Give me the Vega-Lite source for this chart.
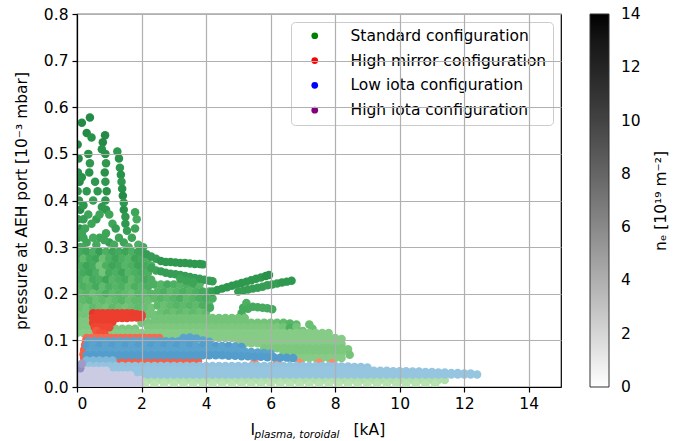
{
  "$schema": "https://vega.github.io/schema/vega-lite/v6.json",
  "width": 484,
  "height": 373,
  "autosize": {"type": "none"},
  "padding": {"left": 77, "top": 14, "right": 117, "bottom": 54},
  "background": "white",
  "datasets": {
    "standard": [
      {"I":0.15,"p":0.567,"n":11},{"I":0.4,"p":0.578,"n":11},{"I":0.3,"p":0.545,"n":11},{"I":0.45,"p":0.535,"n":10.5},{"I":0.35,"p":0.5,"n":10.5},{"I":0.4,"p":0.48,"n":10},{"I":0.38,"p":0.46,"n":10.5},
      {"I":0.87,"p":0.54,"n":11},{"I":0.8,"p":0.525,"n":11},{"I":0.77,"p":0.51,"n":10.5},{"I":0.88,"p":0.5,"n":10.5},{"I":0.9,"p":0.48,"n":10},{"I":0.86,"p":0.46,"n":10.5},{"I":0.88,"p":0.44,"n":10},{"I":0.92,"p":0.42,"n":10.5},{"I":0.88,"p":0.4,"n":10},{"I":0.9,"p":0.38,"n":10},
      {"I":1.25,"p":0.505,"n":10},{"I":1.3,"p":0.49,"n":10.5},{"I":1.33,"p":0.47,"n":10},{"I":1.36,"p":0.455,"n":10.5},{"I":1.38,"p":0.44,"n":10},{"I":1.4,"p":0.425,"n":10.5},{"I":1.42,"p":0.41,"n":11},{"I":1.45,"p":0.395,"n":10},{"I":1.45,"p":0.38,"n":10.5},{"I":1.5,"p":0.365,"n":10},{"I":1.5,"p":0.35,"n":10},{"I":1.55,"p":0.335,"n":9.5},
      {"I":1.8,"p":0.375,"n":9},{"I":1.85,"p":0.36,"n":8.5},{"I":1.8,"p":0.34,"n":9},{"I":1.7,"p":0.32,"n":9},
      {"I":0.02,"p":0.52,"n":11},{"I":0.05,"p":0.49,"n":11},{"I":0.03,"p":0.46,"n":10.5},{"I":0.08,"p":0.44,"n":11},{"I":0.02,"p":0.42,"n":10},{"I":0.06,"p":0.4,"n":10},{"I":0.1,"p":0.38,"n":11},{"I":0.03,"p":0.36,"n":10},{"I":0.08,"p":0.34,"n":10.5},{"I":0.04,"p":0.32,"n":10},{"I":0.1,"p":0.3,"n":10},{"I":0.05,"p":0.28,"n":9},{"I":0.02,"p":0.26,"n":9},{"I":0.08,"p":0.24,"n":9},{"I":0.03,"p":0.22,"n":8},{"I":0.06,"p":0.2,"n":8},
      {"I":0.15,"p":0.45,"n":10.5},{"I":0.56,"p":0.44,"n":10},{"I":0.64,"p":0.42,"n":10},{"I":0.5,"p":0.4,"n":9.5},{"I":0.3,"p":0.42,"n":10},{"I":0.2,"p":0.39,"n":10},{"I":0.35,"p":0.37,"n":9},{"I":0.6,"p":0.36,"n":9.5},{"I":0.77,"p":0.386,"n":10},{"I":0.7,"p":0.37,"n":9},{"I":0.45,"p":0.35,"n":9},{"I":0.25,"p":0.34,"n":9},{"I":1.0,"p":0.37,"n":9},{"I":1.1,"p":0.35,"n":9},{"I":1.2,"p":0.34,"n":9.5},{"I":0.9,"p":0.33,"n":9},{"I":1.0,"p":0.31,"n":9.5},{"I":1.3,"p":0.32,"n":9},{"I":0.7,"p":0.32,"n":9},{"I":0.5,"p":0.32,"n":8.5},{"I":0.3,"p":0.31,"n":9},{"I":0.15,"p":0.3,"n":8.5},
      {"I":0.2,"p":0.32,"n":9},{"I":0.6,"p":0.305,"n":8.5},{"I":0.85,"p":0.315,"n":9},{"I":1.15,"p":0.305,"n":8.5},{"I":1.45,"p":0.31,"n":9},{"I":1.9,"p":0.305,"n":8},{"I":2.05,"p":0.3,"n":8.5},{"I":1.6,"p":0.3,"n":8},{"I":0.2,"p":0.36,"n":9.5},{"I":0.15,"p":0.33,"n":9},
      {"I":0.1,"p":0.29,"n":8.5},{"I":0.3,"p":0.29,"n":9},{"I":0.5,"p":0.29,"n":8},{"I":0.7,"p":0.29,"n":9.5},{"I":0.9,"p":0.29,"n":8},{"I":1.1,"p":0.29,"n":9},{"I":1.3,"p":0.29,"n":8.5},{"I":1.5,"p":0.29,"n":9},{"I":1.7,"p":0.29,"n":8},{"I":1.9,"p":0.29,"n":9},
      {"I":0,"p":0.275,"n":9},{"I":0.2,"p":0.275,"n":7},{"I":0.4,"p":0.275,"n":8.5},{"I":0.6,"p":0.275,"n":9},{"I":0.8,"p":0.275,"n":6.5},{"I":1.0,"p":0.275,"n":8},{"I":1.2,"p":0.275,"n":9},{"I":1.4,"p":0.275,"n":8},{"I":1.6,"p":0.275,"n":7.5},{"I":1.8,"p":0.275,"n":9},{"I":2.0,"p":0.275,"n":8.5},{"I":2.2,"p":0.275,"n":8},
      {"I":0.1,"p":0.26,"n":8},{"I":0.3,"p":0.26,"n":9},{"I":0.5,"p":0.26,"n":8.5},{"I":0.7,"p":0.26,"n":6},{"I":0.9,"p":0.26,"n":8},{"I":1.1,"p":0.26,"n":9},{"I":1.3,"p":0.26,"n":8.5},{"I":1.5,"p":0.26,"n":7.5},{"I":1.7,"p":0.26,"n":8},{"I":1.9,"p":0.26,"n":9},{"I":2.1,"p":0.26,"n":8.5},{"I":2.3,"p":0.26,"n":8},
      {"I":0,"p":0.245,"n":7.5},{"I":0.2,"p":0.245,"n":8.5},{"I":0.4,"p":0.245,"n":9},{"I":0.6,"p":0.245,"n":8},{"I":0.8,"p":0.245,"n":6},{"I":1.0,"p":0.245,"n":8.5},{"I":1.2,"p":0.245,"n":8},{"I":1.4,"p":0.245,"n":9},{"I":1.6,"p":0.245,"n":7.5},{"I":1.8,"p":0.245,"n":8},{"I":2.0,"p":0.245,"n":8.5},{"I":2.2,"p":0.245,"n":8},
      {"I":0.1,"p":0.23,"n":8},{"I":0.3,"p":0.23,"n":7},{"I":0.5,"p":0.23,"n":8.5},{"I":0.7,"p":0.23,"n":8},{"I":0.9,"p":0.23,"n":9},{"I":1.1,"p":0.23,"n":7.5},{"I":1.3,"p":0.23,"n":8},{"I":1.5,"p":0.23,"n":8.5},{"I":1.7,"p":0.23,"n":7},{"I":1.9,"p":0.23,"n":8},{"I":2.1,"p":0.23,"n":8.5},{"I":2.3,"p":0.23,"n":8},
      {"I":0,"p":0.215,"n":7},{"I":0.2,"p":0.215,"n":8},{"I":0.4,"p":0.215,"n":7.5},{"I":0.6,"p":0.215,"n":8.5},{"I":0.8,"p":0.215,"n":7},{"I":1.0,"p":0.215,"n":8},{"I":1.2,"p":0.215,"n":7.5},{"I":1.4,"p":0.215,"n":8},{"I":1.6,"p":0.215,"n":7},{"I":1.8,"p":0.215,"n":8},{"I":2.0,"p":0.215,"n":7.5},{"I":2.2,"p":0.215,"n":8},
      {"I":0.1,"p":0.2,"n":7},{"I":0.3,"p":0.2,"n":7.5},{"I":0.5,"p":0.2,"n":6.5},{"I":0.7,"p":0.2,"n":7},{"I":0.9,"p":0.2,"n":8},{"I":1.1,"p":0.2,"n":7},{"I":1.3,"p":0.2,"n":7.5},{"I":1.5,"p":0.2,"n":7},{"I":1.7,"p":0.2,"n":6.5},{"I":1.9,"p":0.2,"n":7.5},{"I":2.1,"p":0.2,"n":7},{"I":2.3,"p":0.2,"n":7.5},
      {"I":0,"p":0.185,"n":6.5},{"I":0.2,"p":0.185,"n":7},{"I":0.4,"p":0.185,"n":7.5},{"I":0.6,"p":0.185,"n":6.5},{"I":0.8,"p":0.185,"n":7},{"I":1.0,"p":0.185,"n":6.5},{"I":1.2,"p":0.185,"n":7},{"I":1.4,"p":0.185,"n":7.5},{"I":1.6,"p":0.185,"n":6.5},{"I":1.8,"p":0.185,"n":7},{"I":2.0,"p":0.185,"n":7},{"I":2.2,"p":0.185,"n":6.5},
      {"I":0.1,"p":0.17,"n":6.5},{"I":0.3,"p":0.17,"n":6},{"I":0.5,"p":0.17,"n":7},{"I":0.7,"p":0.17,"n":6.5},{"I":0.9,"p":0.17,"n":6},{"I":1.1,"p":0.17,"n":7},{"I":1.3,"p":0.17,"n":6.5},{"I":1.5,"p":0.17,"n":6},{"I":1.7,"p":0.17,"n":6.5},{"I":1.9,"p":0.17,"n":7},{"I":2.1,"p":0.17,"n":6.5},{"I":2.3,"p":0.17,"n":6},
      {"I":0,"p":0.155,"n":6},{"I":0.2,"p":0.155,"n":6},{"I":0.4,"p":0.155,"n":6},{"I":2.2,"p":0.155,"n":6},{"I":2.4,"p":0.155,"n":6},
      {"I":0.1,"p":0.14,"n":5.5},{"I":0.3,"p":0.14,"n":5.5},
      {"I":0,"p":0.125,"n":5.5},{"I":0.2,"p":0.125,"n":5.5},{"I":0.4,"p":0.125,"n":5.5},{"I":1.2,"p":0.125,"n":5.5},{"I":1.4,"p":0.125,"n":5.5},{"I":1.6,"p":0.125,"n":5.5},{"I":1.8,"p":0.125,"n":5.5},
      {"I":2.4,"p":0.22,"n":8},{"I":2.6,"p":0.22,"n":7.5},{"I":2.8,"p":0.22,"n":8.5},{"I":3.0,"p":0.22,"n":8},{"I":3.2,"p":0.22,"n":7.5},{"I":3.4,"p":0.22,"n":8},{"I":3.6,"p":0.22,"n":8.5},{"I":3.8,"p":0.22,"n":7.5},
      {"I":2.5,"p":0.205,"n":7.5},{"I":2.7,"p":0.205,"n":8},{"I":2.9,"p":0.205,"n":7},{"I":3.1,"p":0.205,"n":7.5},{"I":3.3,"p":0.205,"n":8},{"I":3.5,"p":0.205,"n":7.5},{"I":3.7,"p":0.205,"n":8},{"I":3.9,"p":0.205,"n":8.5},{"I":4.1,"p":0.205,"n":8},
      {"I":2.4,"p":0.19,"n":7},{"I":2.6,"p":0.19,"n":7.5},{"I":2.8,"p":0.19,"n":7},{"I":3.0,"p":0.19,"n":7.5},{"I":3.2,"p":0.19,"n":8},{"I":3.4,"p":0.19,"n":7},{"I":3.6,"p":0.19,"n":7.5},{"I":3.8,"p":0.19,"n":8},{"I":4.0,"p":0.19,"n":8.5},{"I":4.2,"p":0.19,"n":8},
      {"I":2.5,"p":0.175,"n":7},{"I":2.7,"p":0.175,"n":6.5},{"I":2.9,"p":0.175,"n":7},{"I":3.1,"p":0.175,"n":7.5},{"I":3.3,"p":0.175,"n":7},{"I":3.5,"p":0.175,"n":7.5},{"I":3.7,"p":0.175,"n":7},{"I":3.9,"p":0.175,"n":8},{"I":4.1,"p":0.175,"n":7.5},
      {"I":2.6,"p":0.16,"n":6.5},{"I":2.8,"p":0.16,"n":7},{"I":3.0,"p":0.16,"n":6.5},{"I":3.2,"p":0.16,"n":7},{"I":3.4,"p":0.16,"n":6.5},{"I":3.6,"p":0.16,"n":7},{"I":3.8,"p":0.16,"n":6.5},{"I":4.0,"p":0.16,"n":7},
      {"I":2.0,"p":0.29,"n":9},{"I":2.15,"p":0.285,"n":9.5},{"I":2.3,"p":0.28,"n":9.5},{"I":2.45,"p":0.275,"n":9.5},{"I":2.6,"p":0.27,"n":10},{"I":2.75,"p":0.268,"n":10},{"I":2.9,"p":0.268,"n":10},{"I":3.05,"p":0.267,"n":10},{"I":3.2,"p":0.266,"n":10},{"I":3.35,"p":0.266,"n":10},{"I":3.5,"p":0.265,"n":10},{"I":3.65,"p":0.264,"n":10},{"I":3.8,"p":0.264,"n":10},{"I":3.9,"p":0.263,"n":10},
      {"I":2.3,"p":0.255,"n":9},{"I":2.45,"p":0.25,"n":9},{"I":2.6,"p":0.248,"n":9.5},{"I":2.75,"p":0.245,"n":9.5},{"I":2.9,"p":0.243,"n":9.5},{"I":3.05,"p":0.242,"n":9.5},{"I":3.2,"p":0.24,"n":9.5},{"I":3.35,"p":0.238,"n":9.5},{"I":3.5,"p":0.236,"n":9.5},{"I":3.65,"p":0.234,"n":9.5},{"I":3.8,"p":0.232,"n":9.5},{"I":3.95,"p":0.23,"n":9.5},{"I":4.1,"p":0.228,"n":9.5},{"I":4.2,"p":0.227,"n":9.5},
      {"I":3.2,"p":0.232,"n":9},{"I":3.4,"p":0.228,"n":9},{"I":3.6,"p":0.225,"n":9},{"I":4.12,"p":0.17,"n":8.5},
      {"I":4.2,"p":0.205,"n":9.5},{"I":4.35,"p":0.208,"n":10},{"I":4.5,"p":0.211,"n":10},{"I":4.65,"p":0.214,"n":10},{"I":4.8,"p":0.217,"n":10},{"I":4.95,"p":0.22,"n":10},{"I":5.1,"p":0.223,"n":10},{"I":5.25,"p":0.226,"n":10},{"I":5.4,"p":0.229,"n":10},{"I":5.55,"p":0.232,"n":10},{"I":5.7,"p":0.235,"n":10},{"I":5.85,"p":0.238,"n":10.5},{"I":5.95,"p":0.24,"n":10.5},
      {"I":5.0,"p":0.205,"n":9.5},{"I":5.15,"p":0.207,"n":9.5},{"I":5.3,"p":0.209,"n":9.5},{"I":5.45,"p":0.211,"n":9.5},{"I":5.6,"p":0.213,"n":9.5},{"I":5.75,"p":0.215,"n":9.5},{"I":5.9,"p":0.218,"n":9.5},{"I":6.05,"p":0.22,"n":9.5},{"I":6.2,"p":0.222,"n":9.5},{"I":6.35,"p":0.224,"n":10},{"I":6.5,"p":0.226,"n":10},{"I":6.65,"p":0.228,"n":10},
      {"I":5.1,"p":0.158,"n":8.5},{"I":5.15,"p":0.17,"n":8.5},{"I":5.25,"p":0.18,"n":8},{"I":5.3,"p":0.168,"n":8.5},{"I":5.45,"p":0.172,"n":8.5},{"I":5.6,"p":0.171,"n":8.5},{"I":5.75,"p":0.17,"n":8.5},{"I":5.9,"p":0.169,"n":8.5},{"I":6.05,"p":0.167,"n":8.5},
      {"I":2.4,"p":0.148,"n":6},{"I":2.6,"p":0.148,"n":6},{"I":2.8,"p":0.148,"n":6},{"I":3.0,"p":0.148,"n":6},{"I":3.2,"p":0.148,"n":6},{"I":3.4,"p":0.148,"n":6},{"I":3.6,"p":0.148,"n":6},{"I":3.8,"p":0.148,"n":6},{"I":4.0,"p":0.148,"n":6},{"I":4.2,"p":0.148,"n":6},{"I":4.4,"p":0.148,"n":6},{"I":4.6,"p":0.148,"n":6},{"I":4.8,"p":0.148,"n":6},{"I":5.0,"p":0.148,"n":6},{"I":5.2,"p":0.148,"n":6},
      {"I":2.0,"p":0.138,"n":6},{"I":2.2,"p":0.138,"n":6},{"I":2.4,"p":0.138,"n":6},{"I":2.6,"p":0.138,"n":6},{"I":2.8,"p":0.138,"n":6},{"I":3.0,"p":0.138,"n":6},{"I":3.2,"p":0.138,"n":6},{"I":3.4,"p":0.138,"n":6},{"I":3.6,"p":0.138,"n":6},{"I":3.8,"p":0.138,"n":6},{"I":4.0,"p":0.138,"n":6},{"I":4.2,"p":0.138,"n":6},{"I":4.4,"p":0.138,"n":6},{"I":4.6,"p":0.138,"n":6},{"I":4.8,"p":0.138,"n":6},{"I":5.0,"p":0.138,"n":6},{"I":5.2,"p":0.138,"n":6},{"I":5.4,"p":0.138,"n":6},{"I":5.6,"p":0.138,"n":6},{"I":5.8,"p":0.138,"n":6},{"I":6.0,"p":0.138,"n":6},{"I":6.2,"p":0.138,"n":6.5},{"I":6.4,"p":0.138,"n":7},{"I":6.6,"p":0.136,"n":7.5},{"I":6.8,"p":0.134,"n":7},
      {"I":2.2,"p":0.128,"n":5.5},{"I":2.4,"p":0.128,"n":5.5},{"I":2.6,"p":0.128,"n":5.5},{"I":2.8,"p":0.128,"n":5.5},{"I":3.0,"p":0.128,"n":5.5},{"I":3.2,"p":0.128,"n":5.5},{"I":3.4,"p":0.128,"n":5.5},{"I":3.6,"p":0.128,"n":5.5},{"I":3.8,"p":0.128,"n":5.5},{"I":4.0,"p":0.128,"n":5.5},{"I":4.2,"p":0.128,"n":5.5},{"I":4.4,"p":0.128,"n":5.5},{"I":4.6,"p":0.128,"n":5.5},{"I":4.8,"p":0.128,"n":5.5},{"I":5.0,"p":0.128,"n":5.5},{"I":5.2,"p":0.128,"n":5.5},{"I":5.4,"p":0.128,"n":5.5},{"I":5.6,"p":0.128,"n":5.5},{"I":5.8,"p":0.128,"n":5.5},{"I":6.0,"p":0.128,"n":5.5},{"I":6.2,"p":0.128,"n":5.5},{"I":6.4,"p":0.128,"n":6},{"I":6.6,"p":0.127,"n":8},{"I":6.8,"p":0.128,"n":6},{"I":7.0,"p":0.12,"n":6},{"I":7.2,"p":0.134,"n":6.5},{"I":7.3,"p":0.125,"n":6.5},
      {"I":0,"p":0.116,"n":5},{"I":0.2,"p":0.116,"n":5},{"I":0.4,"p":0.116,"n":5},{"I":0.6,"p":0.116,"n":5},{"I":0.8,"p":0.116,"n":5},{"I":1.0,"p":0.116,"n":5},{"I":1.2,"p":0.116,"n":5},{"I":1.4,"p":0.116,"n":5},{"I":1.6,"p":0.116,"n":5},{"I":1.8,"p":0.116,"n":5},{"I":2.0,"p":0.116,"n":5},{"I":2.2,"p":0.116,"n":5},{"I":2.4,"p":0.116,"n":5},{"I":2.6,"p":0.116,"n":5},{"I":2.8,"p":0.116,"n":5},{"I":3.0,"p":0.116,"n":5},{"I":3.2,"p":0.116,"n":5},{"I":3.4,"p":0.116,"n":5},{"I":3.6,"p":0.116,"n":5},{"I":3.8,"p":0.116,"n":5},{"I":4.0,"p":0.116,"n":5},{"I":4.2,"p":0.116,"n":5},{"I":4.4,"p":0.116,"n":5},{"I":4.6,"p":0.116,"n":5},{"I":4.8,"p":0.116,"n":5},{"I":5.0,"p":0.116,"n":5},{"I":5.2,"p":0.116,"n":5},{"I":5.4,"p":0.116,"n":5},{"I":5.6,"p":0.116,"n":5},{"I":5.8,"p":0.116,"n":5},{"I":6.0,"p":0.116,"n":5},{"I":6.2,"p":0.116,"n":5},{"I":6.4,"p":0.116,"n":5},{"I":6.6,"p":0.116,"n":5},{"I":6.8,"p":0.116,"n":5},{"I":7.0,"p":0.116,"n":5},{"I":7.2,"p":0.116,"n":5},{"I":7.4,"p":0.116,"n":5},{"I":7.6,"p":0.116,"n":5},{"I":7.8,"p":0.116,"n":5},
      {"I":2.6,"p":0.105,"n":5},{"I":2.8,"p":0.105,"n":5},{"I":3.0,"p":0.105,"n":5},{"I":3.2,"p":0.105,"n":5},{"I":3.4,"p":0.105,"n":5},{"I":3.6,"p":0.105,"n":5},{"I":3.8,"p":0.105,"n":5},{"I":4.0,"p":0.105,"n":5},{"I":4.2,"p":0.105,"n":5},{"I":4.4,"p":0.105,"n":5},{"I":4.6,"p":0.105,"n":5},{"I":4.8,"p":0.105,"n":5},{"I":5.0,"p":0.105,"n":5},{"I":5.2,"p":0.105,"n":5},{"I":5.4,"p":0.105,"n":5},{"I":5.6,"p":0.105,"n":5},{"I":5.8,"p":0.105,"n":5},{"I":6.0,"p":0.105,"n":5},{"I":6.2,"p":0.105,"n":5},{"I":6.4,"p":0.105,"n":5},{"I":6.6,"p":0.105,"n":5},{"I":6.8,"p":0.105,"n":5},{"I":7.0,"p":0.105,"n":5},{"I":7.2,"p":0.105,"n":5},{"I":7.4,"p":0.105,"n":5},{"I":7.6,"p":0.105,"n":5},{"I":7.8,"p":0.105,"n":5},{"I":8.0,"p":0.105,"n":5},{"I":8.2,"p":0.103,"n":5},
      {"I":5.0,"p":0.094,"n":5},{"I":5.2,"p":0.094,"n":5},{"I":5.4,"p":0.094,"n":5},{"I":5.6,"p":0.094,"n":5},{"I":5.8,"p":0.094,"n":5},{"I":6.0,"p":0.094,"n":5},{"I":6.2,"p":0.094,"n":5},{"I":6.4,"p":0.094,"n":5},{"I":6.6,"p":0.094,"n":5},{"I":6.8,"p":0.094,"n":5},{"I":7.0,"p":0.094,"n":5},{"I":7.2,"p":0.094,"n":5},{"I":7.4,"p":0.094,"n":5},{"I":7.6,"p":0.094,"n":5},{"I":7.8,"p":0.094,"n":5},{"I":8.0,"p":0.094,"n":5},{"I":8.2,"p":0.092,"n":5},
      {"I":5.8,"p":0.083,"n":5.5},{"I":6.0,"p":0.083,"n":5.5},{"I":6.2,"p":0.083,"n":5.5},{"I":6.4,"p":0.083,"n":5.5},{"I":6.6,"p":0.083,"n":5.5},{"I":6.8,"p":0.083,"n":5.5},{"I":7.0,"p":0.083,"n":5.5},{"I":7.2,"p":0.083,"n":5.5},{"I":7.4,"p":0.083,"n":5.5},{"I":7.6,"p":0.083,"n":5.5},{"I":7.8,"p":0.083,"n":5.5},{"I":8.0,"p":0.083,"n":5.5},{"I":8.2,"p":0.083,"n":5.5},{"I":8.4,"p":0.081,"n":5.5},
      {"I":6.4,"p":0.073,"n":5.5},{"I":6.6,"p":0.073,"n":5.5},{"I":6.8,"p":0.073,"n":5.5},{"I":7.0,"p":0.073,"n":5.5},{"I":7.2,"p":0.073,"n":5.5},{"I":7.4,"p":0.073,"n":5.5},{"I":7.6,"p":0.073,"n":5.5},{"I":7.8,"p":0.073,"n":5.5},{"I":8.0,"p":0.073,"n":5.5},{"I":8.2,"p":0.073,"n":5.5},{"I":8.45,"p":0.069,"n":6},
      {"I":6.6,"p":0.062,"n":5},{"I":6.8,"p":0.062,"n":5},{"I":7.0,"p":0.062,"n":5},{"I":7.2,"p":0.062,"n":5},{"I":7.4,"p":0.062,"n":5},{"I":7.6,"p":0.062,"n":5},{"I":7.8,"p":0.062,"n":5},{"I":8.0,"p":0.062,"n":5},{"I":8.2,"p":0.062,"n":5},
      {"I":0,"p":0.015,"n":2.5},{"I":0.2,"p":0.015,"n":2.5},{"I":0.4,"p":0.015,"n":2.5},{"I":0.6,"p":0.015,"n":2.5},{"I":0.8,"p":0.015,"n":2.5},{"I":1.0,"p":0.015,"n":2.5},{"I":1.2,"p":0.015,"n":2.5},{"I":1.4,"p":0.015,"n":2.5},{"I":1.6,"p":0.015,"n":2.5},{"I":1.8,"p":0.015,"n":2.5},{"I":2.0,"p":0.015,"n":2.5},{"I":2.2,"p":0.015,"n":2.5},{"I":2.4,"p":0.015,"n":2.5},{"I":2.6,"p":0.015,"n":2.5},{"I":2.8,"p":0.015,"n":2.5},{"I":3.0,"p":0.015,"n":2.5},{"I":3.2,"p":0.015,"n":2.5},{"I":3.4,"p":0.015,"n":2.5},{"I":3.6,"p":0.015,"n":2.5},{"I":3.8,"p":0.015,"n":2.5},{"I":4.0,"p":0.015,"n":2.5},{"I":4.2,"p":0.015,"n":2.5},{"I":4.4,"p":0.015,"n":2.5},{"I":4.6,"p":0.015,"n":2.5},{"I":4.8,"p":0.015,"n":2.5},{"I":5.0,"p":0.015,"n":2.5},{"I":5.2,"p":0.015,"n":2.5},{"I":5.4,"p":0.015,"n":2.5},{"I":5.6,"p":0.015,"n":2.5},{"I":5.8,"p":0.015,"n":2.5},{"I":6.0,"p":0.015,"n":2.5},{"I":6.2,"p":0.015,"n":2.5},{"I":6.4,"p":0.015,"n":2.5},{"I":6.6,"p":0.015,"n":2.5},{"I":6.8,"p":0.015,"n":2.5},{"I":7.0,"p":0.015,"n":2.5},{"I":7.2,"p":0.015,"n":2.5},{"I":7.4,"p":0.015,"n":2.5},{"I":7.6,"p":0.015,"n":2.5},{"I":7.8,"p":0.015,"n":2.5},{"I":8.0,"p":0.015,"n":2.5},{"I":8.2,"p":0.015,"n":2.5},{"I":8.4,"p":0.015,"n":2.5},{"I":8.6,"p":0.015,"n":2.5},{"I":8.8,"p":0.015,"n":2.5},{"I":9.0,"p":0.015,"n":2.5},{"I":9.2,"p":0.015,"n":2.5},{"I":9.4,"p":0.015,"n":2.5},{"I":9.6,"p":0.015,"n":2.5},{"I":9.8,"p":0.015,"n":2.5},{"I":10.0,"p":0.015,"n":2.5},{"I":10.2,"p":0.015,"n":2.5},{"I":10.4,"p":0.015,"n":2.5},{"I":10.6,"p":0.015,"n":2.5},{"I":10.8,"p":0.015,"n":2.5},{"I":11.0,"p":0.015,"n":2.5},{"I":11.2,"p":0.015,"n":2.5},{"I":11.4,"p":0.015,"n":2.5},
      {"I":0,"p":0.006,"n":2},{"I":0.3,"p":0.006,"n":2},{"I":0.6,"p":0.006,"n":2},{"I":0.9,"p":0.006,"n":2},{"I":1.2,"p":0.006,"n":2},{"I":1.5,"p":0.006,"n":2},{"I":1.8,"p":0.006,"n":2},{"I":2.1,"p":0.006,"n":2},{"I":2.4,"p":0.006,"n":2},{"I":2.7,"p":0.006,"n":2},{"I":3.0,"p":0.006,"n":2},{"I":3.3,"p":0.006,"n":2},{"I":3.6,"p":0.006,"n":2},{"I":3.9,"p":0.006,"n":2},{"I":4.2,"p":0.006,"n":2},{"I":4.5,"p":0.006,"n":2},{"I":4.8,"p":0.006,"n":2},{"I":5.1,"p":0.006,"n":2},{"I":5.4,"p":0.006,"n":2},{"I":5.7,"p":0.006,"n":2},{"I":6.0,"p":0.006,"n":2},{"I":6.3,"p":0.006,"n":2},{"I":6.6,"p":0.006,"n":2},{"I":6.9,"p":0.006,"n":2},{"I":7.2,"p":0.006,"n":2},{"I":7.5,"p":0.006,"n":2},{"I":7.8,"p":0.006,"n":2},{"I":8.1,"p":0.006,"n":2},{"I":8.4,"p":0.006,"n":2},{"I":8.7,"p":0.006,"n":2},{"I":9.0,"p":0.006,"n":2},{"I":9.3,"p":0.006,"n":2},{"I":9.6,"p":0.006,"n":2},{"I":9.9,"p":0.006,"n":2},{"I":10.2,"p":0.006,"n":2},{"I":10.5,"p":0.006,"n":2},{"I":10.8,"p":0.006,"n":2},{"I":11.1,"p":0.006,"n":2}
    ],
    "mirror": [
      {"I":0.5,"p":0.158,"n":9},{"I":0.65,"p":0.158,"n":8.5},{"I":0.8,"p":0.158,"n":8.5},{"I":0.95,"p":0.158,"n":8.5},{"I":1.1,"p":0.158,"n":8.5},{"I":1.25,"p":0.158,"n":8.5},{"I":1.4,"p":0.158,"n":8.5},{"I":1.55,"p":0.158,"n":8.5},{"I":1.7,"p":0.158,"n":8.5},{"I":1.85,"p":0.156,"n":8.5},{"I":2.0,"p":0.155,"n":8.5},
      {"I":0.5,"p":0.148,"n":8.5},{"I":0.65,"p":0.148,"n":8.5},{"I":0.8,"p":0.148,"n":8.5},{"I":0.95,"p":0.148,"n":8.5},{"I":1.1,"p":0.148,"n":8.5},{"I":1.25,"p":0.148,"n":8.5},{"I":1.4,"p":0.148,"n":8.5},{"I":1.55,"p":0.148,"n":8.5},{"I":1.7,"p":0.149,"n":8.5},{"I":1.85,"p":0.149,"n":8.5},{"I":2.0,"p":0.15,"n":8.5},
      {"I":0.5,"p":0.138,"n":8.5},{"I":0.65,"p":0.138,"n":8.5},{"I":0.8,"p":0.138,"n":8.5},{"I":0.95,"p":0.138,"n":8.5},{"I":1.1,"p":0.14,"n":8.5},
      {"I":0.55,"p":0.128,"n":8},{"I":0.7,"p":0.128,"n":8},{"I":0.85,"p":0.128,"n":8},{"I":1.0,"p":0.128,"n":8},
      {"I":0.6,"p":0.12,"n":7},{"I":0.7,"p":0.116,"n":7.5},{"I":0.85,"p":0.114,"n":7.5},
      {"I":0.3,"p":0.105,"n":6},{"I":0.45,"p":0.105,"n":6},{"I":0.6,"p":0.105,"n":6},{"I":0.75,"p":0.105,"n":6},{"I":0.9,"p":0.105,"n":6},{"I":1.05,"p":0.105,"n":6},{"I":1.2,"p":0.105,"n":6},{"I":1.35,"p":0.105,"n":6},{"I":1.5,"p":0.105,"n":6},{"I":1.65,"p":0.105,"n":6},{"I":1.8,"p":0.105,"n":6},{"I":1.95,"p":0.105,"n":6},{"I":2.1,"p":0.105,"n":6},{"I":2.25,"p":0.105,"n":6},{"I":2.4,"p":0.105,"n":6},{"I":2.55,"p":0.105,"n":6},
      {"I":0.28,"p":0.098,"n":6.5},{"I":0.25,"p":0.09,"n":6.5},{"I":0.22,"p":0.08,"n":6.5},{"I":0.2,"p":0.07,"n":6.5},{"I":0.22,"p":0.062,"n":6.5},{"I":0.28,"p":0.054,"n":6.5},
      {"I":1.2,"p":0.056,"n":6.5},{"I":1.35,"p":0.056,"n":6.5},{"I":1.5,"p":0.056,"n":6.5},{"I":1.65,"p":0.056,"n":6.5},{"I":1.8,"p":0.055,"n":6.5},{"I":1.95,"p":0.055,"n":6.5},{"I":2.1,"p":0.055,"n":6.5},{"I":2.25,"p":0.055,"n":6.5},{"I":2.4,"p":0.055,"n":6.5},{"I":2.55,"p":0.055,"n":6.5},{"I":2.7,"p":0.055,"n":6.5},{"I":2.85,"p":0.055,"n":6.5},{"I":3.0,"p":0.055,"n":6.5},{"I":3.15,"p":0.055,"n":6.5},{"I":3.3,"p":0.055,"n":6.5},{"I":3.45,"p":0.055,"n":6.5},{"I":3.6,"p":0.055,"n":6.5},{"I":3.75,"p":0.055,"n":6.5},
      {"I":5.5,"p":0.053,"n":4},{"I":6.2,"p":0.053,"n":4},{"I":6.9,"p":0.052,"n":4},{"I":7.5,"p":0.052,"n":4},{"I":7.9,"p":0.051,"n":4}
    ],
    "lowiota": [
      {"I":0.35,"p":0.098,"n":7},{"I":0.55,"p":0.098,"n":7},{"I":0.75,"p":0.098,"n":7},{"I":0.95,"p":0.098,"n":7},{"I":1.15,"p":0.098,"n":7},{"I":1.35,"p":0.098,"n":7},{"I":1.55,"p":0.098,"n":7},{"I":1.75,"p":0.098,"n":7},{"I":1.95,"p":0.098,"n":7},{"I":2.15,"p":0.098,"n":7},{"I":2.35,"p":0.098,"n":7},{"I":2.55,"p":0.098,"n":7},{"I":2.75,"p":0.098,"n":7},{"I":2.95,"p":0.098,"n":7},{"I":3.15,"p":0.098,"n":7},{"I":3.35,"p":0.098,"n":7},{"I":3.55,"p":0.098,"n":7},
      {"I":3.3,"p":0.105,"n":7},{"I":3.5,"p":0.106,"n":7},{"I":3.7,"p":0.104,"n":7},{"I":3.9,"p":0.1,"n":7},{"I":4.1,"p":0.097,"n":7},
      {"I":0.3,"p":0.088,"n":7.5},{"I":0.5,"p":0.088,"n":7},{"I":0.7,"p":0.088,"n":7.5},{"I":0.9,"p":0.088,"n":7},{"I":1.1,"p":0.088,"n":7.5},{"I":1.3,"p":0.088,"n":7},{"I":1.5,"p":0.088,"n":7.5},{"I":1.7,"p":0.088,"n":7},{"I":1.9,"p":0.088,"n":7.5},{"I":2.1,"p":0.088,"n":7},{"I":2.3,"p":0.088,"n":7.5},{"I":2.5,"p":0.088,"n":7},{"I":2.7,"p":0.088,"n":7.5},{"I":2.9,"p":0.088,"n":7},{"I":3.1,"p":0.088,"n":7.5},{"I":3.3,"p":0.088,"n":7},{"I":3.5,"p":0.088,"n":7.5},{"I":3.7,"p":0.088,"n":7},{"I":3.9,"p":0.088,"n":7.5},{"I":4.1,"p":0.088,"n":7},{"I":4.3,"p":0.088,"n":7.5},{"I":4.5,"p":0.088,"n":7},{"I":4.7,"p":0.088,"n":7.5},{"I":4.9,"p":0.087,"n":7},{"I":5.1,"p":0.086,"n":7.5},
      {"I":0.4,"p":0.078,"n":7},{"I":0.6,"p":0.078,"n":7},{"I":0.8,"p":0.078,"n":7},{"I":1.0,"p":0.078,"n":7},{"I":1.2,"p":0.078,"n":7},{"I":1.4,"p":0.078,"n":7},{"I":1.6,"p":0.078,"n":7},{"I":1.8,"p":0.078,"n":7},{"I":2.0,"p":0.078,"n":7},{"I":2.2,"p":0.078,"n":7},{"I":2.4,"p":0.078,"n":7},{"I":2.6,"p":0.078,"n":7},{"I":2.8,"p":0.078,"n":7},{"I":3.0,"p":0.078,"n":7},{"I":3.2,"p":0.078,"n":7},{"I":3.4,"p":0.078,"n":7},{"I":3.6,"p":0.078,"n":7},{"I":3.8,"p":0.078,"n":7},{"I":4.0,"p":0.078,"n":7},{"I":4.2,"p":0.078,"n":7},{"I":4.4,"p":0.078,"n":7},{"I":4.6,"p":0.078,"n":7},{"I":4.8,"p":0.078,"n":7},{"I":5.0,"p":0.077,"n":7},{"I":5.2,"p":0.076,"n":7},{"I":5.4,"p":0.075,"n":7},{"I":5.6,"p":0.074,"n":7},{"I":5.8,"p":0.073,"n":7},{"I":6.0,"p":0.072,"n":7},
      {"I":0.3,"p":0.068,"n":7.5},{"I":0.5,"p":0.068,"n":7.5},{"I":0.7,"p":0.068,"n":7.5},{"I":0.9,"p":0.068,"n":7.5},{"I":1.1,"p":0.068,"n":7.5},{"I":1.3,"p":0.068,"n":7.5},{"I":1.5,"p":0.068,"n":7.5},{"I":1.7,"p":0.068,"n":7.5},{"I":1.9,"p":0.068,"n":7.5},{"I":2.1,"p":0.068,"n":7.5},{"I":2.3,"p":0.068,"n":7.5},{"I":2.5,"p":0.068,"n":7.5},{"I":2.7,"p":0.068,"n":7.5},{"I":2.9,"p":0.068,"n":7.5},{"I":3.1,"p":0.068,"n":7.5},{"I":3.3,"p":0.068,"n":7.5},{"I":3.5,"p":0.068,"n":7.5},{"I":3.7,"p":0.068,"n":7.5},{"I":3.9,"p":0.068,"n":7.5},{"I":4.1,"p":0.068,"n":7.5},{"I":4.3,"p":0.068,"n":7.5},{"I":4.5,"p":0.068,"n":7.5},{"I":4.7,"p":0.067,"n":7.5},{"I":4.9,"p":0.067,"n":7.5},{"I":5.1,"p":0.066,"n":7.5},{"I":5.3,"p":0.066,"n":7.5},{"I":5.5,"p":0.065,"n":7.5},{"I":5.7,"p":0.065,"n":7.5},{"I":5.9,"p":0.064,"n":7.5},{"I":6.1,"p":0.064,"n":7.5},{"I":6.3,"p":0.063,"n":7.5},{"I":6.5,"p":0.063,"n":7.5},{"I":6.7,"p":0.062,"n":7.5},
      {"I":0.3,"p":0.057,"n":5},{"I":0.5,"p":0.057,"n":5},{"I":0.7,"p":0.057,"n":5},{"I":0.9,"p":0.057,"n":5},{"I":1.1,"p":0.057,"n":5},
      {"I":0,"p":0.045,"n":4},{"I":0.2,"p":0.045,"n":4},{"I":0.4,"p":0.045,"n":4},{"I":0.6,"p":0.045,"n":4},{"I":0.8,"p":0.045,"n":4},{"I":1.0,"p":0.045,"n":4},{"I":1.2,"p":0.045,"n":4},{"I":1.4,"p":0.045,"n":4},{"I":1.6,"p":0.045,"n":4},{"I":1.8,"p":0.045,"n":4},{"I":2.0,"p":0.045,"n":4},{"I":2.2,"p":0.045,"n":4},{"I":2.4,"p":0.045,"n":4},{"I":2.6,"p":0.045,"n":4},{"I":2.8,"p":0.045,"n":4},{"I":3.0,"p":0.045,"n":4},{"I":3.2,"p":0.045,"n":4},{"I":3.4,"p":0.045,"n":4},{"I":3.6,"p":0.045,"n":4},{"I":3.8,"p":0.045,"n":4},{"I":4.0,"p":0.045,"n":4},{"I":4.2,"p":0.045,"n":4},{"I":4.4,"p":0.045,"n":4},{"I":4.6,"p":0.045,"n":4},{"I":4.8,"p":0.045,"n":4},{"I":5.0,"p":0.045,"n":4},{"I":5.2,"p":0.045,"n":4},{"I":5.4,"p":0.045,"n":4},{"I":5.6,"p":0.045,"n":4},{"I":5.8,"p":0.045,"n":4},{"I":6.0,"p":0.045,"n":4},{"I":6.2,"p":0.045,"n":4},{"I":6.4,"p":0.045,"n":4},{"I":6.6,"p":0.045,"n":4},{"I":6.8,"p":0.045,"n":4},{"I":7.0,"p":0.045,"n":4},{"I":7.2,"p":0.045,"n":4},{"I":7.4,"p":0.045,"n":4},{"I":7.6,"p":0.045,"n":4},{"I":7.8,"p":0.045,"n":4},{"I":8.0,"p":0.045,"n":4},{"I":8.2,"p":0.044,"n":4},{"I":8.4,"p":0.044,"n":4},{"I":8.6,"p":0.043,"n":4},{"I":8.8,"p":0.043,"n":4},{"I":9.0,"p":0.042,"n":4},
      {"I":0,"p":0.036,"n":3.8},{"I":0.2,"p":0.036,"n":3.8},{"I":0.4,"p":0.036,"n":3.8},{"I":0.6,"p":0.036,"n":3.8},{"I":0.8,"p":0.036,"n":3.8},{"I":1.0,"p":0.036,"n":3.8},{"I":1.2,"p":0.036,"n":3.8},{"I":1.4,"p":0.036,"n":3.8},{"I":1.6,"p":0.036,"n":3.8},{"I":1.8,"p":0.036,"n":3.8},{"I":2.0,"p":0.036,"n":3.8},{"I":2.2,"p":0.036,"n":3.8},{"I":2.4,"p":0.036,"n":3.8},{"I":2.6,"p":0.036,"n":3.8},{"I":2.8,"p":0.036,"n":3.8},{"I":3.0,"p":0.036,"n":3.8},{"I":3.2,"p":0.036,"n":3.8},{"I":3.4,"p":0.036,"n":3.8},{"I":3.6,"p":0.036,"n":3.8},{"I":3.8,"p":0.036,"n":3.8},{"I":4.0,"p":0.036,"n":3.8},{"I":4.2,"p":0.036,"n":3.8},{"I":4.4,"p":0.036,"n":3.8},{"I":4.6,"p":0.036,"n":3.8},{"I":4.8,"p":0.036,"n":3.8},{"I":5.0,"p":0.036,"n":3.8},{"I":5.2,"p":0.036,"n":3.8},{"I":5.4,"p":0.036,"n":3.8},{"I":5.6,"p":0.036,"n":3.8},{"I":5.8,"p":0.036,"n":3.8},{"I":6.0,"p":0.036,"n":3.8},{"I":6.2,"p":0.036,"n":3.8},{"I":6.4,"p":0.036,"n":3.8},{"I":6.6,"p":0.036,"n":3.8},{"I":6.8,"p":0.036,"n":3.8},{"I":7.0,"p":0.036,"n":3.8},{"I":7.2,"p":0.036,"n":3.8},{"I":7.4,"p":0.036,"n":3.8},{"I":7.6,"p":0.036,"n":3.8},{"I":7.8,"p":0.036,"n":3.8},{"I":8.0,"p":0.036,"n":3.8},{"I":8.2,"p":0.036,"n":3.8},{"I":8.4,"p":0.036,"n":3.8},{"I":8.6,"p":0.036,"n":3.8},{"I":8.8,"p":0.036,"n":3.8},{"I":9.0,"p":0.036,"n":3.8},{"I":9.2,"p":0.035,"n":3.8},{"I":9.4,"p":0.035,"n":3.8},{"I":9.6,"p":0.035,"n":3.8},{"I":9.8,"p":0.034,"n":3.8},{"I":10.0,"p":0.034,"n":3.8},{"I":10.2,"p":0.034,"n":3.8},{"I":10.4,"p":0.033,"n":3.8},{"I":10.6,"p":0.033,"n":3.8},{"I":10.8,"p":0.032,"n":3.8},{"I":11.0,"p":0.032,"n":3.8},{"I":11.2,"p":0.031,"n":3.8},{"I":11.4,"p":0.031,"n":3.8},{"I":11.6,"p":0.03,"n":3.8},{"I":11.8,"p":0.03,"n":3.8},{"I":12.0,"p":0.029,"n":3.8},{"I":12.2,"p":0.029,"n":3.8},
      {"I":1.6,"p":0.027,"n":3.8},{"I":1.8,"p":0.027,"n":3.8},{"I":2.0,"p":0.027,"n":3.8},{"I":2.2,"p":0.027,"n":3.8},{"I":2.4,"p":0.027,"n":3.8},{"I":2.6,"p":0.027,"n":3.8},{"I":2.8,"p":0.027,"n":3.8},{"I":3.0,"p":0.027,"n":3.8},{"I":3.2,"p":0.027,"n":3.8},{"I":3.4,"p":0.027,"n":3.8},{"I":3.6,"p":0.027,"n":3.8},{"I":3.8,"p":0.027,"n":3.8},{"I":4.0,"p":0.027,"n":3.8},{"I":4.2,"p":0.027,"n":3.8},{"I":4.4,"p":0.027,"n":3.8},{"I":4.6,"p":0.027,"n":3.8},{"I":4.8,"p":0.027,"n":3.8},{"I":5.0,"p":0.027,"n":3.8},{"I":5.2,"p":0.027,"n":3.8},{"I":5.4,"p":0.027,"n":3.8},{"I":5.6,"p":0.027,"n":3.8},{"I":5.8,"p":0.027,"n":3.8},{"I":6.0,"p":0.027,"n":3.8},{"I":6.2,"p":0.027,"n":3.8},{"I":6.4,"p":0.027,"n":3.8},{"I":6.6,"p":0.027,"n":3.8},{"I":6.8,"p":0.027,"n":3.8},{"I":7.0,"p":0.027,"n":3.8},{"I":7.2,"p":0.027,"n":3.8},{"I":7.4,"p":0.027,"n":3.8},{"I":7.6,"p":0.027,"n":3.8},{"I":7.8,"p":0.027,"n":3.8},{"I":8.0,"p":0.027,"n":3.8},{"I":8.2,"p":0.027,"n":3.8},{"I":8.4,"p":0.027,"n":3.8},{"I":8.6,"p":0.027,"n":3.8},{"I":8.8,"p":0.027,"n":3.8},{"I":9.0,"p":0.027,"n":3.8},{"I":9.2,"p":0.027,"n":3.8},{"I":9.4,"p":0.027,"n":3.8},{"I":9.6,"p":0.027,"n":3.8},{"I":9.8,"p":0.027,"n":3.8},{"I":10.0,"p":0.027,"n":3.8},{"I":10.2,"p":0.027,"n":3.8},{"I":10.4,"p":0.027,"n":3.8},{"I":10.6,"p":0.027,"n":3.8},{"I":10.8,"p":0.027,"n":3.8},{"I":11.0,"p":0.027,"n":3.8},{"I":11.2,"p":0.027,"n":3.8},{"I":11.4,"p":0.027,"n":3.8},{"I":11.6,"p":0.027,"n":3.8},{"I":11.8,"p":0.027,"n":3.8},{"I":12.0,"p":0.027,"n":3.8},{"I":12.2,"p":0.027,"n":3.8},{"I":12.4,"p":0.027,"n":3.8}
    ],
    "highiota": [
      {"I":0,"p":0.035,"n":2.2},{"I":0.15,"p":0.035,"n":2.2},{"I":0.3,"p":0.035,"n":2.2},{"I":0.45,"p":0.035,"n":2.2},{"I":0.6,"p":0.035,"n":2.2},{"I":0.75,"p":0.035,"n":2.2},{"I":0.9,"p":0.035,"n":2.2},
      {"I":0,"p":0.025,"n":2.2},{"I":0.15,"p":0.025,"n":2.2},{"I":0.3,"p":0.025,"n":2.2},{"I":0.45,"p":0.025,"n":2.2},{"I":0.6,"p":0.025,"n":2.2},{"I":0.75,"p":0.025,"n":2.2},{"I":0.9,"p":0.025,"n":2.2},{"I":1.05,"p":0.025,"n":2.2},{"I":1.2,"p":0.025,"n":2.2},{"I":1.35,"p":0.025,"n":2.2},{"I":1.5,"p":0.025,"n":2.2},{"I":1.65,"p":0.025,"n":2.2},
      {"I":0,"p":0.015,"n":2.2},{"I":0.15,"p":0.015,"n":2.2},{"I":0.3,"p":0.015,"n":2.2},{"I":0.45,"p":0.015,"n":2.2},{"I":0.6,"p":0.015,"n":2.2},{"I":0.75,"p":0.015,"n":2.2},{"I":0.9,"p":0.015,"n":2.2},{"I":1.05,"p":0.015,"n":2.2},{"I":1.2,"p":0.015,"n":2.2},{"I":1.35,"p":0.015,"n":2.2},{"I":1.5,"p":0.015,"n":2.2},{"I":1.65,"p":0.015,"n":2.2},{"I":1.8,"p":0.015,"n":2.2},{"I":1.95,"p":0.015,"n":2.2},
      {"I":0,"p":0.005,"n":2.2},{"I":0.15,"p":0.005,"n":2.2},{"I":0.3,"p":0.005,"n":2.2},{"I":0.45,"p":0.005,"n":2.2},{"I":0.6,"p":0.005,"n":2.2},{"I":0.75,"p":0.005,"n":2.2},{"I":0.9,"p":0.005,"n":2.2},{"I":1.05,"p":0.005,"n":2.2},{"I":1.2,"p":0.005,"n":2.2},{"I":1.35,"p":0.005,"n":2.2},{"I":1.5,"p":0.005,"n":2.2},{"I":1.65,"p":0.005,"n":2.2},{"I":1.8,"p":0.005,"n":2.2},{"I":1.95,"p":0.005,"n":2.2},
      {"I":0.05,"p":0.045,"n":8},{"I":0.1,"p":0.04,"n":7},{"I":0.15,"p":0.05,"n":6}
    ],
    "configs": [
      {"config":"Standard configuration"},
      {"config":"High mirror configuration"},
      {"config":"Low iota configuration"},
      {"config":"High iota configuration"}
    ],
    "density": [{"n":0},{"n":14}]
  },
  "layer": [
    {
      "data": {"name": "standard"},
      "mark": {"type": "circle", "size": 72, "opacity": 1, "clip": true},
      "encoding": {
        "x": {"field": "I", "type": "quantitative", "scale": {"domain": [0, 15], "nice": false},
              "axis": {"orient": "bottom", "title": null, "values": [0, 2, 4, 6, 8, 10, 12, 14], "grid": true, "zindex": 1}},
        "y": {"field": "p", "type": "quantitative", "scale": {"domain": [0, 0.8], "nice": false},
              "axis": {"orient": "left", "title": "pressure at AEH port [10⁻³ mbar]", "values": [0, 0.1, 0.2, 0.3, 0.4, 0.5, 0.6, 0.7, 0.8], "format": ".1f", "grid": true, "zindex": 1, "titlePadding": 14}},
        "color": {"field": "n", "type": "quantitative", "scale": {"scheme": "greens", "domain": [0, 14]}, "legend": null}
      }
    },
    {
      "data": {"name": "mirror"},
      "mark": {"type": "circle", "size": 72, "opacity": 1, "clip": true},
      "encoding": {
        "x": {"field": "I", "type": "quantitative",
              "axis": {"orient": "bottom", "title": "I", "labels": false, "ticks": false, "domain": false, "grid": false, "titleX": 173, "titleY": 47, "titleAlign": "left", "titleBaseline": "alphabetic"}},
        "y": {"field": "p", "type": "quantitative", "axis": null},
        "color": {"field": "n", "type": "quantitative", "scale": {"scheme": "reds", "domain": [0, 14]}, "legend": null}
      }
    },
    {
      "data": {"name": "lowiota"},
      "mark": {"type": "circle", "size": 72, "opacity": 1, "clip": true},
      "encoding": {
        "x": {"field": "I", "type": "quantitative",
              "axis": {"orient": "bottom", "title": "plasma, toroidal", "labels": false, "ticks": false, "domain": false, "grid": false, "titleX": 177, "titleY": 50, "titleAlign": "left", "titleBaseline": "alphabetic", "titleFontSize": 10.5, "titleFontStyle": "italic"}},
        "y": {"field": "p", "type": "quantitative", "axis": null},
        "color": {"field": "n", "type": "quantitative", "scale": {"scheme": "blues", "domain": [0, 14]}, "legend": null}
      }
    },
    {
      "data": {"name": "highiota"},
      "mark": {"type": "circle", "size": 72, "opacity": 1, "clip": true},
      "encoding": {
        "x": {"field": "I", "type": "quantitative",
              "axis": {"orient": "bottom", "title": "[kA]", "labels": false, "ticks": false, "domain": false, "grid": false, "titleX": 276, "titleY": 47, "titleAlign": "left", "titleBaseline": "alphabetic"}},
        "y": {"field": "p", "type": "quantitative", "axis": null},
        "color": {"field": "n", "type": "quantitative", "scale": {"scheme": "purples", "domain": [0, 14]}, "legend": null}
      }
    },
    {
      "data": {"name": "configs"},
      "mark": {"type": "circle", "size": 45, "opacity": 0},
      "encoding": {
        "color": {"field": "config", "type": "nominal",
                  "scale": {"domain": ["Standard configuration", "High mirror configuration", "Low iota configuration", "High iota configuration"], "range": ["#008000", "#ff0000", "#0000ff", "#800080"]},
                  "legend": {"title": null, "orient": "top-right", "offset": 8, "padding": 6, "strokeColor": "#cccccc", "fillColor": "rgba(255,255,255,0.8)", "cornerRadius": 4,
                             "labelFontSize": 15.5, "labelColor": "#000", "labelLimit": 400, "symbolSize": 45, "symbolType": "circle", "symbolOpacity": 1,
                             "rowPadding": 7.8, "symbolOffset": 10, "labelOffset": 28,
                             "encode": {"symbols": {"update": {"opacity": {"value": 1}}}}}}
      }
    },
    {
      "data": {"name": "density"},
      "mark": {"type": "circle", "opacity": 0},
      "encoding": {
        "color": {"field": "n", "type": "quantitative", "scale": {"domain": [0, 14], "range": ["#ffffff", "#000000"]},
                  "legend": {"type": "gradient", "orient": "right", "offset": 29, "direction": "vertical", "gradientLength": 373, "gradientThickness": 19,
                             "gradientStrokeColor": "#333333", "gradientStrokeWidth": 1, "gradientOpacity": 1,
                             "values": [0, 2, 4, 6, 8, 10, 12, 14], "labelFontSize": 15.5, "labelColor": "#000", "labelOffset": 12, "labelOverlap": false,
                             "title": "nₑ [10¹⁹ m⁻²]", "titleOrient": "right", "titleFontSize": 15.5, "titleFontWeight": "normal", "titleColor": "#000", "titleAnchor": "middle", "titlePadding": 28,
                             "encode": {"labels": {"update": {"baseline": {"value": "middle"}}}, "gradient": {"update": {"opacity": {"value": 1}}}, "title": {"update": {"angle": {"value": 270}}}}}}
      }
    }
  ],
  "resolve": {
    "scale": {"color": "independent"},
    "axis": {"x": "independent", "y": "independent"}
  },
  "config": {
    "font": "DejaVu Sans",
    "view": {"stroke": "#000000", "strokeWidth": 1.2},
    "axis": {
      "labelFont": "DejaVu Sans", "titleFont": "DejaVu Sans", "labelFontSize": 15.5, "titleFontSize": 15.5,
      "labelColor": "#000", "titleColor": "#000", "titleFontWeight": "normal",
      "domainColor": "#000", "domainWidth": 1.2, "tickColor": "#000", "tickWidth": 1.2, "tickSize": 5,
      "gridColor": "#b0b0b0", "gridWidth": 1.2, "labelPadding": 4
    },
    "legend": {"labelFont": "DejaVu Sans", "titleFont": "DejaVu Sans"}
  }
}
